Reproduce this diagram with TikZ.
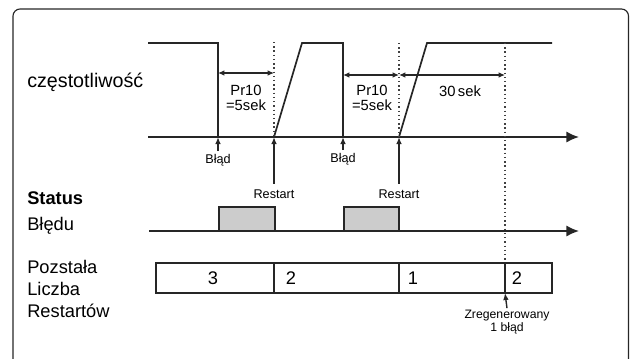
\documentclass[tikz,border=0pt]{standalone}
\usepackage{fontspec}
\setmainfont{Liberation Sans}
\usepackage{xcolor}
\usetikzlibrary{positioning, arrows.meta}

\begin{document}
\begin{tikzpicture}[
    x=0.025cm, y=-0.025cm,
    sig/.style={
        line width=1.2pt,
        draw=black!85
    },
    axis/.style={
        sig,
        -{Latex[length=9pt,width=8pt]}
    },
    dimline/.style={
        line width=1pt,
        draw=black!85,
        {Latex[length=4.5pt,width=4pt]}-{Latex[length=4.5pt,width=4pt]}
    },
    guide/.style={
        line width=1pt,
        draw=black!75,
        dotted
    },
    evarrow/.style={
        line width=1pt,
        draw=black!85,
        -{Latex[length=5pt,width=4pt]}
    },
    biglabel/.style={
        anchor=west,
        align=left,
        inner sep=0pt,
        font=\fontsize{13}{15.5}\selectfont
    },
    smalllabel/.style={
        inner sep=0pt,
        align=center,
        font=\fontsize{9}{9.5}\selectfont
    },
    dimlabel/.style={
        inner sep=0pt,
        align=center,
        font=\fontsize{10.5}{11}\selectfont
    },
    digit/.style={
        inner sep=0pt,
        font=\fontsize{13}{13}\selectfont
    },
    pulse/.style={
        sig,
        fill=black!20
    }
]
\useasboundingbox (0,0) rectangle (630,358);

% Frame

\draw[line width=0.8pt, draw=black!85, rounded corners=5pt] (13,9) rectangle (628.5,380);

% Row titles

\node[biglabel, font=\fontsize{14}{16}\selectfont] (freq) at (27,82) {częstotliwość};

\node[biglabel] (status) at (27,198) {\textbf{Status}};
\node[biglabel, below=0.3cm of status.south west, anchor=north west] (statusb) {Błędu};

\node[biglabel] (count) at (27,289) {Pozstała\\Liczba\\Restartów};

% Time points

\coordinate (e1) at (218,137);
\coordinate (r1) at (274,137);
\coordinate (e2) at (343,137);
\coordinate (r2) at (399,137);
\coordinate (g1) at (505,137);

% Frequency signal

\draw[axis] (148,137) -- (579,137);
\draw[sig] (148,43) -- (218,43) -- (e1);
\draw[sig] (r1) -- (302,43) -- (343,43) -- (e2);
\draw[sig] (r2) -- (427,43) -- (552,43);

\draw[guide] (274,42) -- (r1);
\draw[guide] (399,43) -- (r2);
\draw[guide] (505,43) -- (505,263);

% Time spans

\coordinate (d1a) at (218,73);
\coordinate (d1b) at (274,73);
\coordinate (d2a) at (343,75);
\coordinate (d2b) at (399,75);
\coordinate (d3b) at (505,75);

\draw[dimline] (d1a) -- (d1b);
\draw[dimline] (d2a) -- (d2b);
\draw[dimline] (d2b) -- (d3b);

\node[dimlabel] (wait1) at (246,98) {Pr10\\=5sek};
\node[dimlabel] (wait2) at (372,98) {Pr10\\=5sek};
\node[dimlabel] (reset) at (460,91) {30\,sek};

% Events

\node[smalllabel] (err1) at (218,160) {Błąd};
\node[smalllabel] (err2) at (343,159) {Błąd};
\node[smalllabel] (rst1) at (274,194) {Restart};
\node[smalllabel] (rst2) at (399,194) {Restart};

\draw[evarrow] ([yshift=2pt]err1.north) -- (e1);
\draw[evarrow] ([yshift=2pt]err2.north) -- (e2);
\draw[evarrow] ([yshift=4pt]rst1.north) -- (r1);
\draw[evarrow] ([yshift=4pt]rst2.north) -- (r2);

% Fault status

\draw[axis] (149,231) -- (579,231);
\draw[pulse] (219,231) rectangle (275,207);
\draw[pulse] (344,231) rectangle (399,207);

% Restart counter

\draw[sig] (156,263) rectangle (552,293);
\draw[sig] (274,263) -- (274,293);
\draw[sig] (399,263) -- (399,293);
\draw[sig] (505,263) -- (505,293);

\node[digit] (n3) at (213,278) {3};
\node[digit] (n2) at (291,278) {2};
\node[digit] (n1) at (413,278) {1};
\node[digit] (n2b) at (517,278) {2};

\coordinate (g2) at (505,293);
\node[smalllabel, font=\fontsize{8.7}{9.5}\selectfont] (regen) at (507,322) {Zregenerowany\\1 błąd};
\draw[evarrow] ([yshift=1pt]regen.north) -- (g2);

\end{tikzpicture}
\end{document}
